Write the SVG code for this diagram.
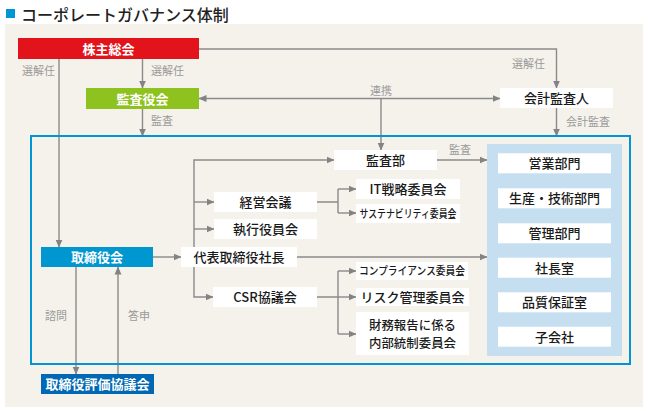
<svg xmlns="http://www.w3.org/2000/svg" width="648" height="411" viewBox="0 0 648 411">
<defs>
<marker id="ah" viewBox="0 0 8 8" refX="7.5" refY="4" markerWidth="8" markerHeight="8" markerUnits="userSpaceOnUse" orient="auto-start-reverse">
<path d="M0,0.5 L8,4 L0,7.5 z" fill="#838383"/>
</marker>
<style>
text{font-family:"Noto Sans CJK JP","Noto Sans",sans-serif;}
.w{fill:#ffffff;}
.t{font-size:13px;fill:#1a1a1a;font-weight:500;text-anchor:middle;}
.tb{font-size:13px;fill:#ffffff;font-weight:bold;text-anchor:middle;}
.lbl{font-size:11px;fill:#9a9a9a;}
.c{fill:none;stroke:#8a8a8a;stroke-width:1.4;}
.a{marker-end:url(#ah);}
</style>
</defs>
<rect x="6" y="9" width="9" height="9" fill="#0096D6"/>
<text x="21" y="20.5" style="font-size:16px;fill:#222222;font-weight:500;">コーポレートガバナンス体制</text>
<rect x="5" y="24" width="638" height="383" fill="#F5F2EC"/>

<g id="connectors">
<path class="c a" d="M59,59 V247"/>
<path class="c a" d="M142.5,59 V88"/>
<path class="c a" d="M199,49 H556.5 V88"/>
<path class="c a" d="M199,98.5 H500" marker-start="url(#ah)"/>
<path class="c a" d="M381,98.5 V150"/>
<path class="c a" d="M142.5,109 V136"/>
<path class="c a" d="M556.5,108 V136"/>
<path class="c a" d="M437,160 H487"/>
<path class="c a" d="M194,247 V160 H334"/>
<path class="c a" d="M194,202 H214"/>
<path class="c a" d="M194,229 H214"/>
<path class="c a" d="M194,267 V297 H213"/>
<path class="c a" d="M153,257 H181"/>
<path class="c a" d="M297,257 H487"/>
<path class="c" d="M317,202 H338 M338,189 V213"/>
<path class="c a" d="M338,189 H356"/>
<path class="c a" d="M338,213 H356"/>
<path class="c" d="M317,297 H338 M338,271 V334"/>
<path class="c a" d="M338,271 H356"/>
<path class="c a" d="M338,297 H356"/>
<path class="c a" d="M338,334 H356"/>
<path class="c a" d="M76,267 V374"/>
<path class="c a" d="M118,374 V267"/>
<text class="lbl" x="22" y="75">選解任</text>
<text class="lbl" x="151" y="75">選解任</text>
<text class="lbl" x="545" y="68" text-anchor="end">選解任</text>
<text class="lbl" x="381" y="95" text-anchor="middle">連携</text>
<text class="lbl" x="151" y="125">監査</text>
<text class="lbl" x="566" y="126">会計監査</text>
<text class="lbl" x="449" y="154">監査</text>
<text class="lbl" x="45" y="320">諮問</text>
<text class="lbl" x="128" y="320">答申</text>
</g>

<g id="frame">
<rect x="31" y="136" width="599" height="228" fill="none" stroke="#0096D6" stroke-width="2"/>
</g>

<g id="n-kabunushi"><rect x="18" y="38" width="181" height="21" fill="#E3131B"/><text class="tb" x="108.5" y="53.5">株主総会</text></g>
<g id="n-kansayakukai"><rect x="86" y="88" width="113" height="21" fill="#8EC21F"/><text class="tb" x="142.5" y="103.5">監査役会</text></g>
<g id="n-kaikei"><rect class="w" x="500" y="88" width="113" height="20"/><text class="t" x="556.5" y="103">会計監査人</text></g>
<g id="n-kansabu"><rect class="w" x="334" y="150" width="103" height="20"/><text class="t" x="385.5" y="165">監査部</text></g>
<g id="n-keiei"><rect class="w" x="214" y="192" width="103" height="20"/><text class="t" x="265.5" y="207">経営会議</text></g>
<g id="n-shikko"><rect class="w" x="214" y="219" width="103" height="20"/><text class="t" x="265.5" y="234">執行役員会</text></g>
<g id="n-shacho"><rect class="w" x="181" y="247" width="116" height="20"/><text class="t" x="239" y="262">代表取締役社長</text></g>
<g id="n-csr"><rect class="w" x="213" y="287" width="104" height="20"/><text class="t" x="265" y="302">CSR協議会</text></g>
<g id="n-it"><rect class="w" x="356" y="179" width="104" height="20"/><text class="t" x="408" y="194">IT戦略委員会</text></g>
<g id="n-sustain"><rect class="w" x="356" y="204" width="104" height="19"/><text class="t" x="408" y="217.5" style="font-size:11px" textLength="97" lengthAdjust="spacingAndGlyphs">サステナビリティ委員会</text></g>
<g id="n-comp"><rect class="w" x="356" y="262" width="112" height="18"/><text class="t" x="412" y="275" style="font-size:11px" textLength="106" lengthAdjust="spacingAndGlyphs">コンプライアンス委員会</text></g>
<g id="n-risk"><rect class="w" x="356" y="288" width="113" height="18"/><text class="t" x="412.5" y="301.5">リスク管理委員会</text></g>
<g id="n-zaimu"><rect class="w" x="356" y="312" width="113" height="43"/><text class="t" x="412.5" y="329.5" style="font-size:12px" textLength="87" lengthAdjust="spacingAndGlyphs">財務報告に係る</text><text class="t" x="412.5" y="347.5" style="font-size:12px" textLength="87" lengthAdjust="spacingAndGlyphs">内部統制委員会</text></g>
<g id="n-torishimari"><rect x="41" y="247" width="112" height="20" fill="#0096CF"/><text class="tb" x="97" y="262">取締役会</text></g>
<g id="n-hyoka"><rect x="41" y="374" width="113" height="20" fill="#0068B5"/><text class="tb" x="97.5" y="389">取締役評価協議会</text></g>

<g id="n-panel">
<rect x="487" y="144" width="135" height="212" fill="#C5DFF0"/>
<rect class="w" x="498" y="153.3" width="113" height="20"/><text class="t" x="554.5" y="168.3">営業部門</text>
<rect class="w" x="498" y="188.3" width="113" height="20"/><text class="t" x="554.5" y="203.3">生産・技術部門</text>
<rect class="w" x="498" y="223.3" width="113" height="20"/><text class="t" x="554.5" y="238.3">管理部門</text>
<rect class="w" x="498" y="257.7" width="113" height="20"/><text class="t" x="554.5" y="272.7">社長室</text>
<rect class="w" x="498" y="292.3" width="113" height="20"/><text class="t" x="554.5" y="307.3">品質保証室</text>
<rect class="w" x="498" y="326.7" width="113" height="20"/><text class="t" x="554.5" y="341.7">子会社</text>
</g>
</svg>
